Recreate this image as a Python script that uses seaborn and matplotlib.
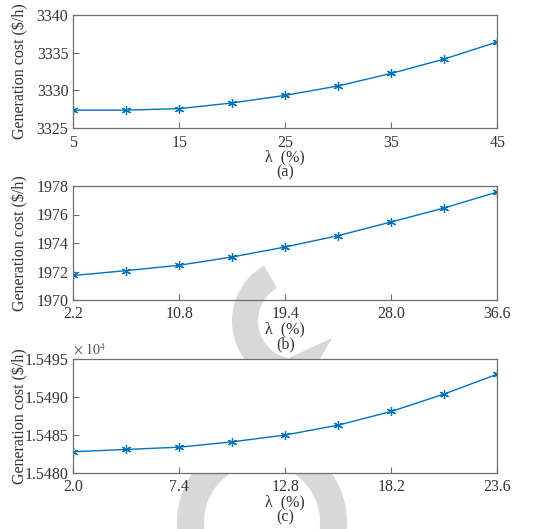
import numpy as np
import pandas as pd
import matplotlib
matplotlib.use("Agg")
import matplotlib.pyplot as plt
from matplotlib.patches import Polygon, Wedge
from matplotlib.ticker import FuncFormatter, FixedLocator
import seaborn as sns

# ---- data -------------------------------------------------------------
lam_a = [5, 10, 15, 20, 25, 30, 35, 40, 45]
cost_a = [3327.4, 3327.4, 3327.6, 3328.35, 3329.35, 3330.6, 3332.25, 3334.15, 3336.4]

lam_b = [2.2, 6.5, 10.8, 15.1, 19.4, 23.7, 28.0, 32.3, 36.6]
cost_b = [1971.72, 1972.06, 1972.44, 1973.02, 1973.72, 1974.52, 1975.48, 1976.46, 1977.58]

lam_c = [2.0, 4.7, 7.4, 10.1, 12.8, 15.5, 18.2, 20.9, 23.6]
cost_c = [15482.8, 15483.1, 15483.4, 15484.1, 15485.0, 15486.3, 15488.1, 15490.4, 15493.0]

xticks_a = [5, 15, 25, 35, 45]
xticks_b = [2.2, 10.8, 19.4, 28.0, 36.6]
xticks_c = [2.0, 7.4, 12.8, 18.2, 23.6]
yticks_a = [3325, 3330, 3335, 3340]
yticks_b = [1970, 1972, 1974, 1976, 1978]
yticks_c = [15480, 15485, 15490, 15495]
panel_tags = ["(a)", "(b)", "(c)"]

# ---- style ------------------------------------------------------------
sns.set_style("ticks")
plt.rcParams["font.family"] = ["Liberation Serif", "DejaVu Serif"]
plt.rcParams["mathtext.fontset"] = "stix"
TEXT = "#333333"
SPINE = "#6e6e6e"
BLUE = "#0072BD"
FS = 11.5
plt.rcParams.update({
    "text.color": TEXT,
    "axes.labelcolor": TEXT,
    "xtick.color": SPINE,
    "ytick.color": SPINE,
    "xtick.labelcolor": TEXT,
    "ytick.labelcolor": TEXT,
    "axes.edgecolor": SPINE,
})

W, H = 540, 529
fig = plt.figure(figsize=(W / 100, H / 100), dpi=100)
fig.patch.set_facecolor("white")


def px(x, y):
    """pixel (top-left origin) -> inches for fig.dpi_scale_trans"""
    return (x / 100.0, (H - y) / 100.0)


# light grey background emblem
GREY = "#d8d8d8"
cx, cy, R, r = 296, 321, 64, 38
pts = []
for t in np.linspace(120, 250, 40):
    a = np.radians(t)
    pts.append(px(cx + R * np.cos(a), cy - R * np.sin(a)))
pts += [px(270, 385), px(305, 385), px(332, 338), px(290, 357.5)]
for t in np.linspace(261, 120, 40):
    a = np.radians(t)
    pts.append(px(cx + r * np.cos(a), cy - r * np.sin(a)))
fig.add_artist(Polygon(pts, closed=True, transform=fig.dpi_scale_trans,
                       facecolor=GREY, edgecolor="none", zorder=-5))
fig.add_artist(Wedge(px(262, 522), 0.85, 0, 360, width=0.27,
                     transform=fig.dpi_scale_trans,
                     facecolor=GREY, edgecolor="none", zorder=-5))

# axes boxes in pixels: left, top, right, bottom
boxes = [(73.3, 14.7, 497.3, 128.3),
         (73.3, 186.0, 497.3, 300.0),
         (73.3, 359.0, 497.3, 473.0)]

panels = [
    (lam_a, cost_a, xticks_a, yticks_a, "{:.0f}", lambda v, p: f"{v:.0f}"),
    (lam_b, cost_b, xticks_b, yticks_b, "{:.1f}", lambda v, p: f"{v:.0f}"),
    (lam_c, cost_c, xticks_c, yticks_c, "{:.1f}", lambda v, p: f"{v / 1e4:.4f}"),
]

for i, ((l, t, rgt, b), (xs, ys, xt, yt, xfmt, yfmt)) in enumerate(zip(boxes, panels)):
    ax = fig.add_axes([l / W, 1 - b / H, (rgt - l) / W, (b - t) / H])
    ax.set_facecolor("white" if i == 2 else "none")
    df = pd.DataFrame({"lam": xs, "cost": ys})
    sns.lineplot(data=df, x="lam", y="cost", ax=ax, color=BLUE, lw=1.0,
                 marker=(6, 2, 0), markersize=6.5, markeredgecolor=BLUE,
                 markeredgewidth=0.9)
    ax.set_xlim(xt[0], xt[-1])
    ax.set_ylim(yt[0], yt[-1])
    ax.xaxis.set_major_locator(FixedLocator(xt))
    ax.yaxis.set_major_locator(FixedLocator(yt))
    ax.xaxis.set_major_formatter(FuncFormatter(lambda v, p, f=xfmt: f.format(v)))
    ax.yaxis.set_major_formatter(FuncFormatter(yfmt))
    ax.tick_params(direction="in", length=4, width=0.8, labelsize=FS)
    ax.tick_params(axis="x", pad=4.5)
    ax.tick_params(axis="y", pad=3.5)
    for s in ax.spines.values():
        s.set_linewidth(0.9)
        s.set_color(SPINE)
    ax.set_xlabel("")
    ax.set_ylabel("Generation cost ($/h)", fontsize=FS)
    ax.yaxis.set_label_coords(-0.105, 0.5)
    ax.text(0.5, -0.26, "λ  (%)", transform=ax.transAxes, ha="center",
            va="center", fontsize=FS)
    ax.text(0.5, -0.39, panel_tags[i], transform=ax.transAxes, ha="center",
            va="center", fontsize=FS)
    if i == 2:
        ax.text(0.0, 1.012, r"$\times\ 10^{4}$", transform=ax.transAxes,
                ha="left", va="bottom", fontsize=10, color="#555555")

fig.savefig("out.png", dpi=100)
